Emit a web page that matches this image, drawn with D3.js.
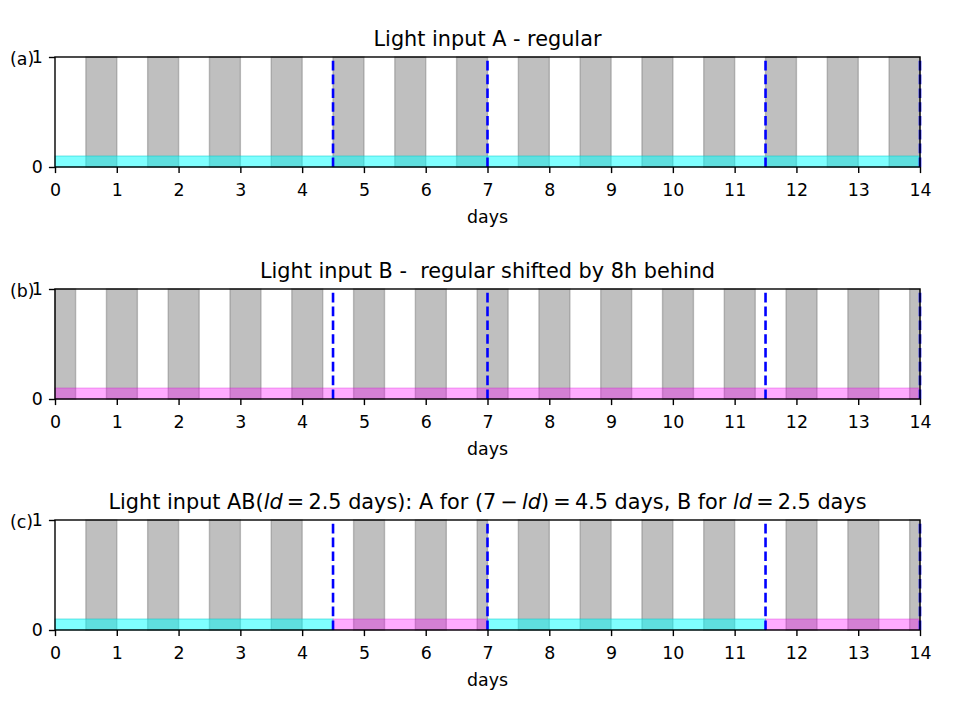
<!DOCTYPE html>
<html><head><meta charset="utf-8">
<script src="https://cdn.jsdelivr.net/npm/d3@7"></script>
<style>body{margin:0;background:#fff}svg{display:block}text{font-family:"DejaVu Sans",sans-serif}</style>
</head><body><svg id="c" width="960" height="720"></svg>
<script>
const xTicks = [0,1,2,3,4,5,6,7,8,9,10,11,12,13,14];
const yTicks = [0,1];
const panelLabels = ["(a)","(b)","(c)"];
const darkA = [[0.5,1],[1.5,2],[2.5,3],[3.5,4],[4.5,5],[5.5,6],[6.5,7],[7.5,8],[8.5,9],[9.5,10],[10.5,11],[11.5,12],[12.5,13],[13.5,14]];
const darkB = [[0,0.333],[0.833,1.333],[1.833,2.333],[2.833,3.333],[3.833,4.333],[4.833,5.333],[5.833,6.333],[6.833,7.333],[7.833,8.333],[8.833,9.333],[9.833,10.333],[10.833,11.333],[11.833,12.333],[12.833,13.333],[13.833,14]];
const darkAB = [[0.5,1],[1.5,2],[2.5,3],[3.5,4],[4.833,5.333],[5.833,6.333],[6.833,7],[7.5,8],[8.5,9],[9.5,10],[10.5,11],[11.833,12.333],[12.833,13.333],[13.833,14]];
const bandA = [[0,14,"A"]];
const bandB = [[0,14,"B"]];
const bandAB = [[0,4.5,"A"],[4.5,7,"B"],[7,11.5,"A"],[11.5,14,"B"]];
const bandHeight = 0.1;
const switchDays = [4.5,7,11.5,14];

const panels = [
  {label:panelLabels[0], dark:darkA, bands:bandA, top:57, title:"Light input A - regular"},
  {label:panelLabels[1], dark:darkB, bands:bandB, top:289, title:"Light input B -  regular shifted by 8h behind"},
  {label:panelLabels[2], dark:darkAB, bands:bandAB, top:520, title:null}
];
const svg = d3.select("#c");
const L = 55, R = 920, H = 110;
const FS = "17.4px", TFS = "20.8px";
const x = d3.scaleLinear().domain([0,14]).range([L,R]);
const bandColor = {A:"rgba(0,255,255,0.5)", B:"rgba(255,0,255,0.33)"};
const bandEdge = {A:"rgba(0,200,200,0.5)", B:"rgba(200,0,200,0.3)"};

panels.forEach((p,i)=>{
  const y = d3.scaleLinear().domain([0,1]).range([p.top+H,p.top]);
  const g = svg.append("g");
  g.selectAll("rect.dark").data(p.dark).enter().append("rect")
    .attr("x",d=>x(d[0])).attr("width",d=>x(d[1])-x(d[0]))
    .attr("y",y(1)).attr("height",y(0)-y(1))
    .attr("fill","#bfbfbf").attr("stroke","rgba(128,128,128,0.5)").attr("stroke-width",1.4);
  g.selectAll("rect.band").data(p.bands).enter().append("rect")
    .attr("x",d=>x(d[0])).attr("width",d=>x(d[1])-x(d[0]))
    .attr("y",y(bandHeight)).attr("height",y(0)-y(bandHeight))
    .attr("fill",d=>bandColor[d[2]]).attr("stroke",d=>bandEdge[d[2]]).attr("stroke-width",1);
  g.selectAll("line.sw").data(switchDays).enter().append("line")
    .attr("x1",d=>x(d)).attr("x2",d=>x(d)).attr("y1",y(0)).attr("y2",y(1))
    .attr("stroke","#0000ff").attr("stroke-width",2.6).attr("stroke-dasharray","9.6,4.2");
  g.append("rect").attr("x",L).attr("y",p.top).attr("width",R-L).attr("height",H)
    .attr("fill","none").attr("stroke","#000").attr("stroke-width",1.4);
  const xa = g.append("g").attr("transform",`translate(0,${p.top+H})`)
    .call(d3.axisBottom(x).tickValues(xTicks).tickFormat(d3.format("d")).tickSize(6.1).tickPadding(10.3));
  const ya = g.append("g").attr("transform",`translate(${L},0)`)
    .call(d3.axisLeft(y).tickValues(yTicks).tickFormat(d3.format("d")).tickSize(6.1).tickPadding(6.1));
  [xa,ya].forEach(a=>{
    a.select(".domain").remove();
    a.selectAll("line").attr("stroke","#000").attr("stroke-width",1.4);
    a.selectAll("text").attr("font-size",FS).attr("fill","#000").attr("font-family","DejaVu Sans");
  });
  g.append("text").attr("x",(L+R)/2).attr("y",p.top+H+56).attr("text-anchor","middle")
    .attr("font-size",FS).text("days");
  g.append("text").attr("x",10).attr("y",p.top+8).attr("font-size",FS).text(p.label);
  const t = g.append("text").attr("x",(L+R)/2).attr("y",p.top-11).attr("text-anchor","middle")
    .attr("font-size",TFS);
  if(p.title){
    t.text(p.title).style("white-space","pre");
  } else {
    t.append("tspan").text("Light input AB(");
    t.append("tspan").attr("font-style","italic").text("ld");
    t.append("tspan").text("\u2009=\u20092.5 days): A for (7\u2009\u2212\u2009");
    t.append("tspan").attr("font-style","italic").text("ld");
    t.append("tspan").text(")\u2009=\u20094.5 days, B for ");
    t.append("tspan").attr("font-style","italic").text("ld");
    t.append("tspan").text("\u2009=\u20092.5 days");
  }
});
</script></body></html>
